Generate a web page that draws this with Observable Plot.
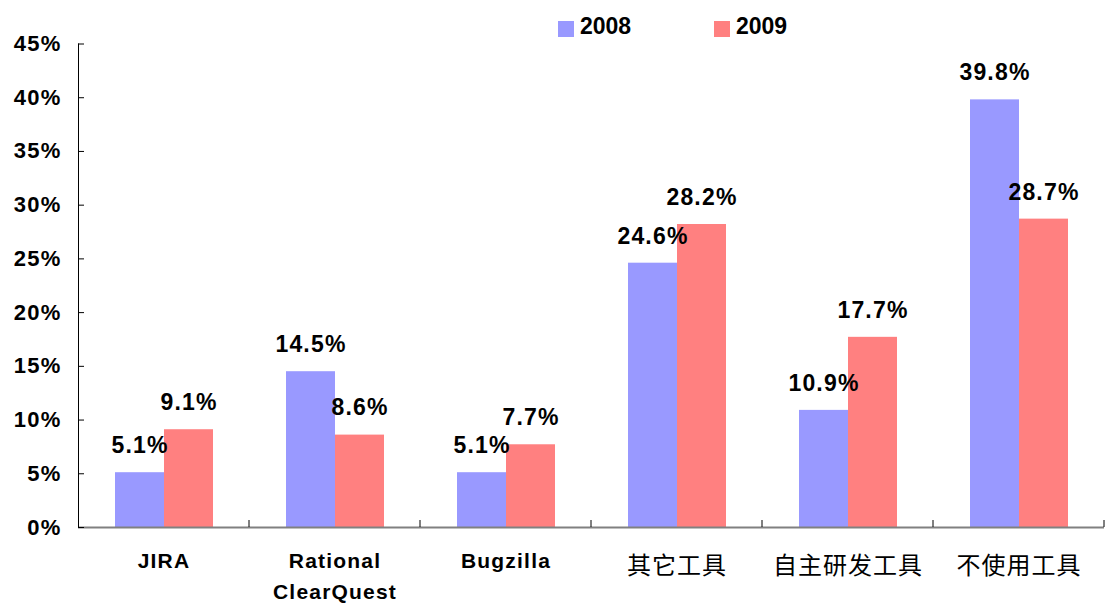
<!DOCTYPE html>
<html>
<head>
<meta charset="utf-8">
<script src="https://cdn.jsdelivr.net/npm/d3@7"></script>
<script src="https://cdn.jsdelivr.net/npm/@observablehq/plot@0.6"></script>
<style>
  html, body { margin: 0; padding: 0; background: #fff; }
  body { width: 1112px; font-family: "Liberation Sans", Arial, "Noto Sans CJK SC", sans-serif; }
  #legend { position: relative; height: 38px; }
  #legend .sw { position: absolute; width: 16px; height: 16px; top: 21px; }
  #legend .lb { position: absolute; top: 15px; font-size: 23px; line-height: 23px; font-weight: bold; color: #000; }
  #chart svg { overflow: visible; }
</style>
</head>
<body>
<div id="legend"></div>
<div id="chart"></div>
<script>
// ---- data ----
const categories = ["JIRA", "Rational\nClearQuest", "Bugzilla", "其它工具", "自主研发工具", "不使用工具"];
const latinCategories = ["JIRA", "Rational\nClearQuest", "Bugzilla"];
const cjkCategories = ["其它工具", "自主研发工具", "不使用工具"];
const years = ["2008", "2009"];
const values2008 = [5.1, 14.5, 5.1, 24.6, 10.9, 39.8];
const values2009 = [9.1, 8.6, 7.7, 28.2, 17.7, 28.7];
const yTicks = [0, 5, 10, 15, 20, 25, 30, 35, 40, 45];
const colors = ["#9999FF", "#FF8080"];

const rows = categories.flatMap((c, i) => [
  {cat: c, year: years[0], value: values2008[i]},
  {cat: c, year: years[1], value: values2009[i]}
]);

// legend (HTML, above the svg)
const legend = document.getElementById("legend");
const legendPos = [[558, 580], [714, 736]];
years.forEach((y, i) => {
  const sw = document.createElement("div");
  sw.className = "sw"; sw.style.left = legendPos[i][0] + "px"; sw.style.background = colors[i];
  const lb = document.createElement("div");
  lb.className = "lb"; lb.style.left = legendPos[i][1] + "px"; lb.textContent = y;
  legend.append(sw, lb);
});

// small upward tick at the right edge of each category facet
function boundaryTicks(index, scales) {
  const r = scales.x.range();
  const xr = Math.max(r[0], r[1]);
  const y0 = scales.y(0);
  const g = d3.create("svg:g");
  g.append("line")
    .attr("x1", xr).attr("x2", xr)
    .attr("y1", y0).attr("y2", y0 - 7)
    .attr("stroke", "#000").attr("stroke-width", 1);
  return g.node();
}

const fontLatin = "'Liberation Sans', Arial, 'Noto Sans CJK SC', sans-serif";
const fontCJK = "'Noto Sans CJK SC', 'Liberation Sans', sans-serif";

const chart = Plot.plot({
  width: 1112,
  height: 567,
  marginTop: 5.5,
  marginBottom: 78,
  marginLeft: 77,
  marginRight: 8,
  style: {fontFamily: fontLatin, background: "transparent", overflow: "visible", color: "#000"},
  fx: {domain: categories, padding: 0, label: null, axis: null},
  x: {domain: years, paddingInner: 0, paddingOuter: 0.73, axis: null},
  y: {domain: [0, 45], label: null, axis: null},
  color: {domain: years, range: colors},
  marks: [
    Plot.barY(rows, {fx: "cat", x: "year", y: "value", fill: "year"}),
    Plot.ruleY([0], {stroke: "#808080", strokeWidth: 2}),
    boundaryTicks,
    Plot.text(rows, {
      fx: "cat", x: "year", y: "value",
      text: d => d.value.toFixed(1) + "%",
      dy: -27, fontSize: 23, fontWeight: "bold", fill: "#000"
    }),
    Plot.axisY({
      ticks: yTicks, tickSize: -6, tickPadding: 23,
      tickFormat: d => d + "%", fontSize: 22, fontWeight: "bold", label: null
    }),
    Plot.frame({anchor: "left", facetAnchor: "left", stroke: "#000"}),
    Plot.axisFx({
      ticks: latinCategories, anchor: "bottom", tickSize: 0, tickPadding: 18,
      fontSize: 21, fontWeight: "bold", lineHeight: 1.5, label: null
    }),
    Plot.axisFx({
      ticks: cjkCategories, anchor: "bottom", tickSize: 0, tickPadding: 29,
      fontSize: 24, fontWeight: "normal", fontFamily: fontCJK, label: null
    })
  ]
});
document.getElementById("chart").append(chart);

// letter spacing to mimic the wide spreadsheet text rendering
chart.querySelectorAll("text").forEach(t => {
  const s = t.textContent;
  if (/[\u4e00-\u9fff]/.test(s)) t.setAttribute("letter-spacing", "1px");
  else t.setAttribute("letter-spacing", "1.2px");
});
</script>
</body>
</html>
